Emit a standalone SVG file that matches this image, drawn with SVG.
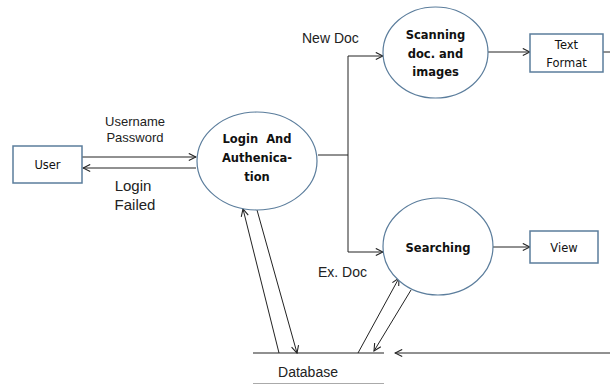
<svg xmlns="http://www.w3.org/2000/svg" width="610" height="385" viewBox="0 0 610 385">
<defs>
<style>
.proc{fill:#fff;stroke:#5b7d9c;stroke-width:1.2}
.box{fill:#fff;stroke:#5b7d9c;stroke-width:1.5}
.ln{fill:none;stroke:#222;stroke-width:1}
.pt{font-family:"DejaVu Sans",sans-serif;font-weight:bold;font-size:11.5px;fill:#111;text-anchor:middle;white-space:pre}
.bt{font-family:"DejaVu Sans",sans-serif;font-size:11.5px;fill:#111;text-anchor:middle}
.lb{font-family:"Liberation Sans",Arial,sans-serif;fill:#222}
</style>
<marker id="ar" viewBox="0 0 10 10" refX="9" refY="5" markerWidth="9" markerHeight="9" markerUnits="userSpaceOnUse" orient="auto">
<polyline points="1,1 9,5 1,9" fill="none" stroke="#222" stroke-width="1.2"/>
</marker>
</defs>
<rect width="610" height="385" fill="#fff"/>
<g id="connectors">
<line class="ln" x1="82" y1="157" x2="196" y2="157" marker-end="url(#ar)"/>
<line class="ln" x1="196" y1="168" x2="83" y2="168" marker-end="url(#ar)"/>
<polyline class="ln" points="318,155 348,155"/>
<polyline class="ln" points="348,252 348,56 383,56" marker-end="url(#ar)"/>
<line class="ln" x1="348" y1="252" x2="383" y2="252" marker-end="url(#ar)"/>
<line class="ln" x1="488" y1="52" x2="530" y2="52" marker-end="url(#ar)"/>
<line class="ln" x1="603" y1="52" x2="610" y2="52"/>
<line class="ln" x1="493" y1="247" x2="530" y2="247" marker-end="url(#ar)"/>
<line class="ln" x1="279" y1="353" x2="243" y2="209" marker-end="url(#ar)"/>
<line class="ln" x1="257" y1="210" x2="297" y2="353" marker-end="url(#ar)"/>
<line class="ln" x1="358" y1="353" x2="399" y2="278" marker-end="url(#ar)"/>
<line class="ln" x1="411" y1="290" x2="374" y2="351" marker-end="url(#ar)"/>
<line class="ln" x1="610" y1="353" x2="395" y2="353" marker-end="url(#ar)"/>
<text class="lb" x="135" y="126" font-size="13" text-anchor="middle">Username</text>
<text class="lb" x="135" y="142" font-size="13" text-anchor="middle">Password</text>
<text class="lb" x="133" y="191" font-size="15" text-anchor="middle">Login</text>
<text class="lb" x="135" y="210" font-size="15" text-anchor="middle">Failed</text>
<text class="lb" x="302" y="43" font-size="14">New Doc</text>
<text class="lb" x="318" y="277" font-size="14">Ex. Doc</text>
</g>
<g id="user">
<rect class="box" x="13" y="146" width="69" height="37"/>
<text class="bt" x="47.5" y="169">User</text>
</g>
<g id="login">
<ellipse class="proc" cx="257" cy="161" rx="60" ry="49"/>
<text class="pt" x="257" y="143" xml:space="preserve">Login  And</text>
<text class="pt" x="257" y="162">Authenica-</text>
<text class="pt" x="257" y="181">tion</text>
</g>
<g id="scanning">
<ellipse class="proc" cx="435.5" cy="52.5" rx="52.5" ry="45.5"/>
<text class="pt" x="435.5" y="39">Scanning</text>
<text class="pt" x="435.5" y="58">doc. and</text>
<text class="pt" x="435.5" y="76">images</text>
</g>
<g id="textformat">
<rect class="box" x="530" y="34" width="73" height="38"/>
<text class="bt" x="566.5" y="49">Text</text>
<text class="bt" x="566.5" y="67">Format</text>
</g>
<g id="searching">
<ellipse class="proc" cx="438" cy="246.5" rx="55" ry="48.5"/>
<text class="pt" x="438" y="252">Searching</text>
</g>
<g id="view">
<rect class="box" x="530" y="231" width="68" height="32"/>
<text class="bt" x="564" y="252">View</text>
</g>
<g id="database">
<line x1="253" y1="353" x2="384" y2="353" stroke="#222" stroke-width="1.2"/>
<line x1="253" y1="383.5" x2="384" y2="383.5" stroke="#aaa" stroke-width="1"/>
<text class="lb" x="308" y="377" font-size="14" text-anchor="middle">Database</text>
</g>
</svg>
